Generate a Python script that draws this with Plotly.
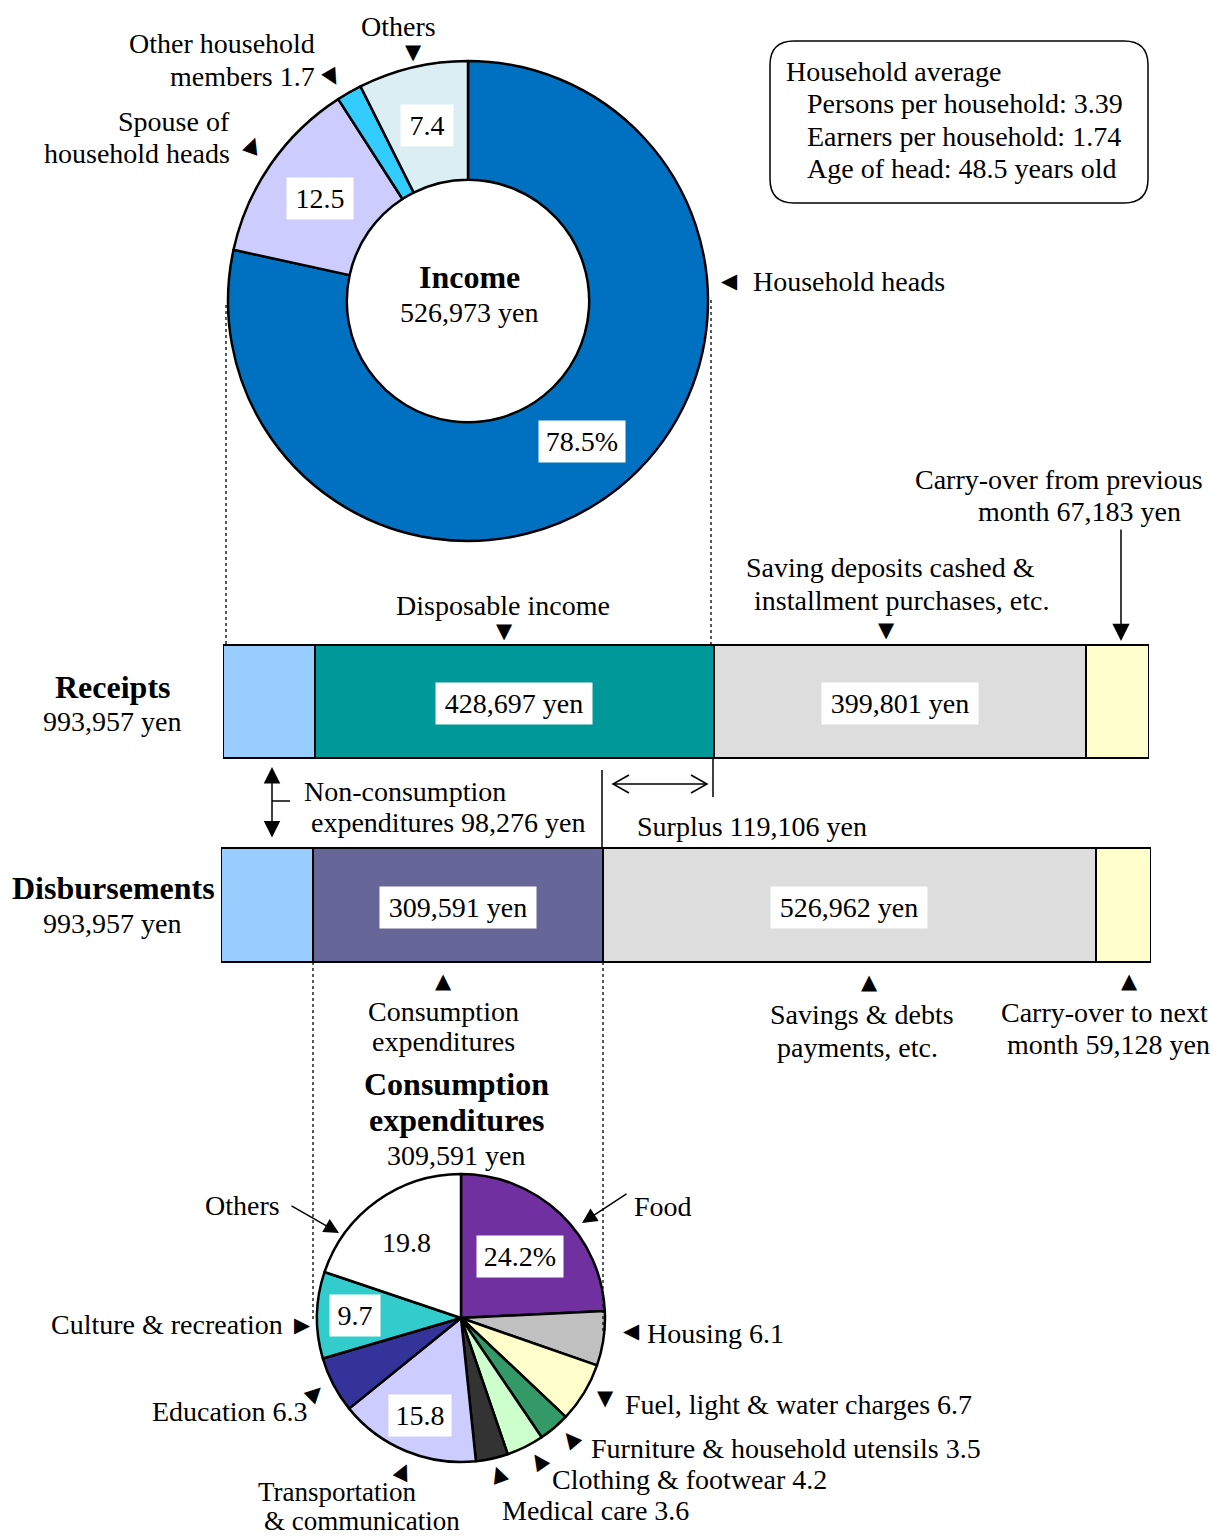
import math
import plotly.graph_objects as go

W, H = 1213, 1538
FONT = "Liberation Serif, Times New Roman, serif"

# ---- data ----
income_labels = ["Household heads", "Spouse of household heads", "Other household members", "Others"]
income_shares = [78.5, 12.5, 1.7, 7.4]
income_total = 526973

cons_labels = ["Food", "Housing", "Fuel, light & water charges", "Furniture & household utensils",
               "Clothing & footwear", "Medical care", "Transportation & communication",
               "Education", "Culture & recreation", "Others"]
cons_shares = [24.2, 6.1, 6.7, 3.5, 4.2, 3.6, 15.8, 6.3, 9.7, 19.8]
cons_total = 309591

receipt_items = ["Non-consumption expenditures", "Disposable income",
                 "Saving deposits cashed & installment purchases, etc.", "Carry-over from previous month"]
receipt_yen = [98276, 428697, 399801, 67183]
disb_items = ["Non-consumption expenditures", "Consumption expenditures",
              "Savings & debts payments, etc.", "Carry-over to next month"]
disb_yen = [98276, 309591, 526962, 59128]
total_yen = 993957
surplus_yen = 119106

avg_lines = ["Persons per household: 3.39", "Earners per household: 1.74", "Age of head: 48.5 years old"]

income_colors = ["#0070C0", "#CCCCFF", "#33CCFF", "#DAEEF3"]
cons_colors = ["#7030A0", "#C0C0C0", "#FFFFCC", "#339966", "#CCFFCC", "#333333",
               "#CCCCFF", "#333399", "#33CCCC", "#FFFFFF"]
receipt_colors = ["#99CCFF", "#009999", "#DDDDDD", "#FFFFCC"]
disb_colors = ["#99CCFF", "#666699", "#DDDDDD", "#FFFFCC"]

FS = 28   # body text
BS = 32   # bold headings


def px(x):
    return x / W


def py(y):
    return 1 - y / H


fig = go.Figure()

# income donut
icx, icy, ir = 468, 301, 240
fig.add_trace(go.Pie(
    labels=income_labels, values=income_shares, hole=0.505, sort=False, direction="clockwise",
    marker=dict(colors=income_colors, line=dict(color="black", width=2.5)),
    textinfo="none", hoverinfo="label+value",
    domain=dict(x=[px(icx - ir), px(icx + ir)], y=[py(icy + ir), py(icy - ir)]),
))

# consumption pie
ccx, ccy, cr = 461, 1318, 144
fig.add_trace(go.Pie(
    labels=cons_labels, values=cons_shares, sort=False, direction="clockwise",
    marker=dict(colors=cons_colors, line=dict(color="black", width=2.5)),
    textinfo="none", hoverinfo="label+value",
    domain=dict(x=[px(ccx - cr), px(ccx + cr)], y=[py(ccy + cr), py(ccy - cr)]),
))

# stacked bars
for i in range(4):
    fig.add_trace(go.Bar(
        x=[receipt_yen[i]], y=[701.5], orientation="h", width=113, name=receipt_items[i],
        marker=dict(color=receipt_colors[i], line=dict(color="black", width=2)),
        xaxis="x", yaxis="y", hoverinfo="name+x",
    ))
    fig.add_trace(go.Bar(
        x=[disb_yen[i]], y=[905], orientation="h", width=114, name=disb_items[i],
        marker=dict(color=disb_colors[i], line=dict(color="black", width=2)),
        xaxis="x2", yaxis="y", hoverinfo="name+x",
    ))


def txt(s, x, y, size=FS, xanchor="center"):
    fig.add_annotation(text=s, x=px(x), y=py(y), xref="paper", yref="paper", showarrow=False,
                       xanchor=xanchor, yanchor="middle",
                       font=dict(size=size, family=FONT, color="black"))


def tri(ch, x, y, angle=0, size=21):
    fig.add_annotation(text=ch, x=px(x), y=py(y), xref="paper", yref="paper", showarrow=False,
                       xanchor="center", yanchor="middle", textangle=angle,
                       font=dict(size=size, family="DejaVu Sans", color="black"))


def boxed(s, x, y, w, xref="paper", yref="paper"):
    fig.add_annotation(text=s, x=x, y=y, xref=xref, yref=yref, showarrow=False,
                       xanchor="center", yanchor="middle", width=w, borderpad=5, bgcolor="white",
                       font=dict(size=FS, family=FONT, color="black"))


# bar value labels, placed at segment centres
cum = 0
for i, v in enumerate(receipt_yen):
    if i in (1, 2):
        boxed(f"{v:,} yen", cum + v / 2, 703, 146, xref="x", yref="y")
    cum += v
cum = 0
for i, v in enumerate(disb_yen):
    if i in (1, 2):
        boxed(f"{v:,} yen", cum + v / 2, 907, 146, xref="x2", yref="y")
    cum += v


# pie value labels, placed at slice mid-angles
def pie_label(shares, idx, cx, cy, r, s, w):
    start = sum(shares[:idx])
    ang = math.radians((start + shares[idx] / 2) / sum(shares) * 360)
    x = cx + r * math.sin(ang)
    y = cy - r * math.cos(ang)
    if w:
        boxed(s, px(x), py(y), w)
    else:
        txt(s, x, y)


pie_label(income_shares, 0, icx, icy, 181, f"{income_shares[0]}%", 76)
pie_label(income_shares, 1, icx, icy, 180, f"{income_shares[1]}", 56)
pie_label(income_shares, 3, icx, icy, 180, f"{income_shares[3]}", 42)
pie_label(cons_shares, 0, ccx, ccy, 85, f"{cons_shares[0]}%", 76)
pie_label(cons_shares, 9, ccx, ccy, 93, f"{cons_shares[9]}", None)
pie_label(cons_shares, 8, ccx, ccy, 106, f"{cons_shares[8]}", 40)
pie_label(cons_shares, 6, ccx, ccy, 106, f"{cons_shares[6]}", 52)

# income pie labels
txt("<b>Income</b>", 469, 277, size=BS)
txt(f"{income_total:,} yen", 469, 312)
txt("Others", 398, 26)
tri("▼", 413, 52)
txt("Other household", 317, 44, xanchor="right")
txt(f"members {income_shares[2]}", 317, 76, xanchor="right")
tri("▲", 333, 79, angle=150)
txt("Spouse of", 232, 121, xanchor="right")
txt("household heads", 232, 153, xanchor="right")
tri("▲", 253, 144, angle=20)
txt("Household heads", 751, 281, xanchor="left")
tri("◀", 729, 281)

# household average box
bx0, by0, bx1, by1, rr = 770, 41, 1148, 203, 24
path = (f"M{px(bx0 + rr)},{py(by0)} L{px(bx1 - rr)},{py(by0)} Q{px(bx1)},{py(by0)} {px(bx1)},{py(by0 + rr)} "
        f"L{px(bx1)},{py(by1 - rr)} Q{px(bx1)},{py(by1)} {px(bx1 - rr)},{py(by1)} "
        f"L{px(bx0 + rr)},{py(by1)} Q{px(bx0)},{py(by1)} {px(bx0)},{py(by1 - rr)} "
        f"L{px(bx0)},{py(by0 + rr)} Q{px(bx0)},{py(by0)} {px(bx0 + rr)},{py(by0)} Z")
fig.add_shape(type="path", path=path, xref="paper", yref="paper", line=dict(color="black", width=1.5))
txt("Household average", 784, 72, xanchor="left")
for k, s in enumerate(avg_lines):
    txt(s, 805, 104 + 32 * k, xanchor="left")

# bar labels
txt("<b>Receipts</b>", 113, 687, size=BS)
txt(f"{total_yen:,} yen", 112, 721)
txt("<b>Disbursements</b>", 113, 888, size=BS)
txt(f"{total_yen:,} yen", 112, 923)
txt("Disposable income", 503, 605)
tri("▼", 504, 631)
txt("Saving deposits cashed &", 890, 568)
txt("installment purchases, etc.", 901, 600)
tri("▼", 886, 630)
txt("Carry-over from previous", 1059, 479)
txt(f"month {receipt_yen[3]:,} yen", 1079, 511)
txt("Non-consumption", 302, 791, xanchor="left")
txt(f"expenditures {receipt_yen[0]:,} yen", 309, 822, xanchor="left")
txt(f"Surplus {surplus_yen:,} yen", 635, 826, xanchor="left")
txt("Consumption", 443, 1011)
txt("expenditures", 443, 1041)
tri("▲", 443, 981)
txt("Savings & debts", 862, 1015)
txt("payments, etc.", 857, 1047)
tri("▲", 869, 982)
txt("Carry-over to next", 1104, 1012)
txt(f"month {disb_yen[3]:,} yen", 1108, 1044)
tri("▲", 1129, 981)

# consumption pie labels
txt("<b>Consumption</b>", 456, 1084, size=BS)
txt("<b>expenditures</b>", 456, 1120, size=BS)
txt(f"{cons_total:,} yen", 456, 1155)
txt("Others", 282, 1205, xanchor="right")
txt("Food", 632, 1206, xanchor="left")
txt(f"Housing {cons_shares[1]}", 645, 1333, xanchor="left")
tri("◀", 631, 1331)
txt(f"Fuel, light & water charges {cons_shares[2]}", 623, 1404, xanchor="left")
tri("▼", 605, 1398)
txt(f"Furniture & household utensils {cons_shares[3]}", 589, 1448, xanchor="left")
tri("▲", 570, 1438, angle=-40)
txt(f"Clothing & footwear {cons_shares[4]}", 550, 1479, xanchor="left")
tri("▲", 538, 1460, angle=-35)
txt(f"Medical care {cons_shares[5]}", 500, 1510, xanchor="left")
tri("▲", 498, 1473, angle=-20)
txt("Transportation", 337, 1492, size=27)
txt("& communication", 362, 1521, size=27)
tri("▲", 404, 1470, angle=25)
txt(f"Education {cons_shares[7]}", 310, 1411, xanchor="right")
tri("▲", 316, 1392, angle=45)
txt("Culture & recreation", 285, 1324, xanchor="right")
tri("▶", 302, 1325)

# dotted guide lines
for x0, y0, y1 in [(226, 305, 645), (711, 300, 645), (313, 962, 1322), (603, 962, 1332)]:
    fig.add_shape(type="line", x0=px(x0), x1=px(x0), y0=py(y0), y1=py(y1), xref="paper", yref="paper",
                  line=dict(color="black", width=1.3, dash="dot"))

# solid connector lines
for x0, y0, y1 in [(602, 770, 848), (713, 758, 797)]:
    fig.add_shape(type="line", x0=px(x0), x1=px(x0), y0=py(y0), y1=py(y1), xref="paper", yref="paper",
                  line=dict(color="black", width=1.5))
fig.add_shape(type="line", x0=px(272), x1=px(290), y0=py(801), y1=py(801), xref="paper", yref="paper",
              line=dict(color="black", width=1.5))

# surplus double arrow (open heads)
sp = (f"M{px(613)},{py(784)} L{px(707)},{py(784)} "
      f"M{px(629)},{py(775)} L{px(613)},{py(784)} L{px(629)},{py(793)} "
      f"M{px(691)},{py(775)} L{px(707)},{py(784)} L{px(691)},{py(793)}")
fig.add_shape(type="path", path=sp, xref="paper", yref="paper", line=dict(color="black", width=1.5))


def arrow(x, y, ax, ay, both=False, size=1.6):
    fig.add_annotation(x=px(x), y=py(y), xref="paper", yref="paper", text="", showarrow=True,
                       ax=ax, ay=ay, arrowhead=2, arrowsize=size, arrowwidth=1.5, arrowcolor="black",
                       arrowside="end+start" if both else "end", startarrowhead=2, startarrowsize=size)


arrow(1121, 641, 0, -113, size=2.3)
arrow(272, 767, 0, 72, both=True, size=2.2)
arrow(582, 1223, 46, -30, size=2.0)
arrow(339, 1233, -49, -28, size=2.0)

fig.update_layout(
    width=W, height=H, margin=dict(l=0, r=0, t=0, b=0),
    paper_bgcolor="white", plot_bgcolor="rgba(0,0,0,0)", showlegend=False, barmode="stack",
    xaxis=dict(domain=[px(223), px(1149)], range=[0, total_yen], visible=False, fixedrange=True),
    xaxis2=dict(domain=[px(221), px(1151)], range=[0, total_yen], visible=False, anchor="y", fixedrange=True),
    yaxis=dict(domain=[0, 1], range=[H, 0], visible=False, fixedrange=True),
    font=dict(family=FONT, color="black"),
)

fig.write_html("out.html", config={"displayModeBar": False},
               post_script="document.body.style.margin='0';")
